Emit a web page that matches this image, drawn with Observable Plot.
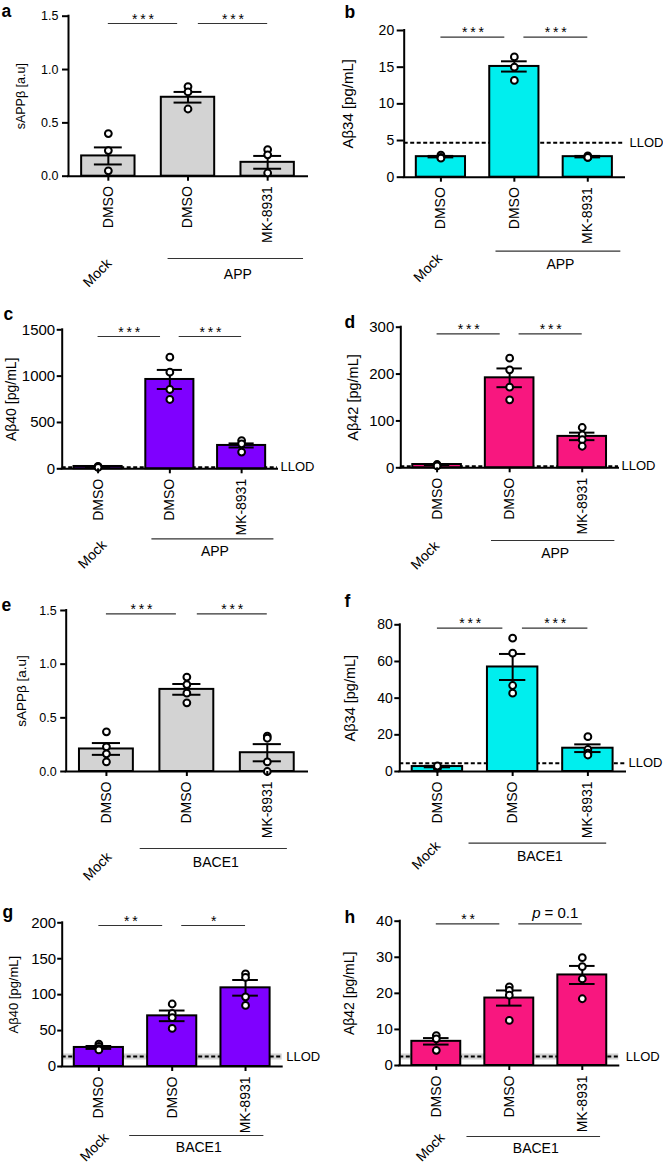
<!DOCTYPE html>
<html>
<head>
<meta charset="utf-8">
<script src="https://cdn.jsdelivr.net/npm/d3@7"></script>
<script src="https://cdn.jsdelivr.net/npm/@observablehq/plot@0.6"></script>
<style>
  html, body { margin: 0; padding: 0; background: #fff; }
  #fig { position: relative; width: 663px; height: 1164px; overflow: hidden; font-family: "Liberation Sans", Arial, Helvetica, sans-serif; color: #000; }
  #fig svg { position: absolute; }
</style>
</head>
<body>
<div id="fig"></div>
<script>
// ---------- data ----------
const categories = ["DMSO", "DMSO", "MK-8931"];
const panelLetters = ["a", "b", "c", "d", "e", "f", "g", "h"];
const yLabels = ["sAPPβ [a.u]", "Aβ34 [pg/mL]", "Aβ40 [pg/mL]", "Aβ42 [pg/mL]",
                 "sAPPβ [a.u]", "Aβ34 [pg/mL]", "Aβ40 [pg/mL]", "Aβ42 [pg/mL]"];
const groupLabels = ["APP", "APP", "APP", "APP", "BACE1", "BACE1", "BACE1", "BACE1"];
const yMax = [1.5, 20, 1500, 300, 1.5, 80, 200, 40];
const yTicks = [
  [0, 0.5, 1, 1.5], [0, 5, 10, 15, 20], [0, 500, 1000, 1500], [0, 100, 200, 300],
  [0, 0.5, 1, 1.5], [0, 20, 40, 60, 80], [0, 50, 100, 150, 200], [0, 10, 20, 30, 40]
];
const barMeans = [
  [0.19, 0.74, 0.13], [2.8, 15.1, 2.8], [25, 964, 252], [7, 192, 67],
  [0.21, 0.765, 0.175], [2.7, 57, 12.7], [26.5, 70.5, 109.5], [6.7, 18.7, 25.1]
];
const barSems = [
  [0.08, 0.05, 0.06], [0.1, 0.7, 0.1], [4, 103, 22], [1, 20, 8],
  [0.055, 0.05, 0.08], [0.4, 7.1, 2.1], [2, 7.4, 10.9], [0.9, 2.1, 2.5]
];
const replicates = [
  [[0.40, 0.24, 0.05], [0.84, 0.79, 0.63], [0.25, 0.20, 0.03]],
  [[3.0, 2.7, 2.6], [16.4, 15.0, 13.2], [2.9, 2.7, 2.7]],
  [[20, 25, 15], [1205, 1043, 856, 748], [305, 270, 180]],
  [[5, 7, 4], [234, 209, 172, 145], [86, 70, 60, 46]],
  [[0.37, 0.23, 0.165, 0.09], [0.88, 0.81, 0.73, 0.64], [0.33, 0.31, 0.09, 0.0]],
  [[1.8, 2.5, 3.0], [72.7, 64.5, 46.9, 42.7], [19, 12, 10, 9]],
  [[31, 28, 25, 23], [87, 74, 68, 53], [129, 124, 97, 85]],
  [[8.3, 7.4, 4.2], [21.8, 20.8, 19.5, 12.5], [29.9, 27.4, 24.0, 18.5]]
];
const sigLabels = [
  ["***", "***"], ["***", "***"], ["***", "***"], ["***", "***"],
  ["***", "***"], ["***", "***"], ["**", "*"], ["**", "p = 0.1"]
];
const llod = [null, 4.7, 18, 3.5, null, 4.5, 13.9, 2.5];

// ---------- styles / layout ----------
const fills = ["#d3d3d3", "#00eeee", "#7f00ff", "#f8177f", "#d3d3d3", "#00eeee", "#7f00ff", "#f8177f"];
const sigSpans = [[0, 0.87], [1.13, 2.0]];                 // in category units
const groupSpans = { APP: [0.75, 2.45], BACE1: [0.42, 2.25] };
const layout = [
  { box: [0, 0, 331, 290],     frame: [68, 15.7, 307, 175.7],     letter: [1, 16],    ylabX: 20,    mock: [97, 272.5],    gLineY: 258,   gTextY: 274.5,  sigY: 23,    tick: [6, 4],   tickFs: 12.5, ylabFs: 12.5, llodDx: 4, band: false },
  { box: [331, 0, 332, 290],   frame: [403.7, 30, 624, 176.7],    letter: [344, 17],  ylabX: 347.7, mock: [427.5, 267.5], gLineY: 250.7, gTextY: 264.5,  sigY: 36.7,  tick: [7, 3],   tickFs: 14,   ylabFs: 15,   llodDx: 5, band: false },
  { box: [0, 290, 331, 290],   frame: [61.7, 329.3, 277, 468.3],  letter: [3, 319],   ylabX: 11,    mock: [92, 554],      gLineY: 538.3, gTextY: 550.8,  sigY: 336,   tick: [5, 2],   tickFs: 15,   ylabFs: 14,   llodDx: 3, band: false },
  { box: [331, 290, 332, 290], frame: [400.3, 326.7, 618, 467.3], letter: [344, 327], ylabX: 353,   mock: [424.7, 555],   gLineY: 540,   gTextY: 553.3,  sigY: 333.3, tick: [4.5, 2], tickFs: 15,   ylabFs: 14.5, llodDx: 3, band: false },
  { box: [0, 580, 331, 290],   frame: [65.7, 610, 307, 771],      letter: [1, 610],   ylabX: 21,    mock: [97, 866],      gLineY: 848,   gTextY: 861.7,  sigY: 613.3, tick: [5.5, 4], tickFs: 12.5, ylabFs: 13.5, llodDx: 4, band: false },
  { box: [331, 580, 332, 290], frame: [399.3, 624.3, 625, 771],   letter: [344, 606], ylabX: 350,   mock: [425.7, 855],   gLineY: 842.7, gTextY: 855.8,  sigY: 627.7, tick: [5, 2],   tickFs: 14,   ylabFs: 14.5, llodDx: 3, band: false },
  { box: [0, 870, 331, 294],   frame: [61.7, 922.3, 281.7, 1066], letter: [2, 917],   ylabX: 13.3,  mock: [94, 1146.7],   gLineY: 1135,  gTextY: 1147.5, sigY: 925,   tick: [4.5, 1.5], tickFs: 15, ylabFs: 13,   llodDx: 4, band: true },
  { box: [331, 870, 332, 294], frame: [399.3, 920.7, 618.3, 1065], letter: [344, 922], ylabX: 349,  mock: [430, 1146.7],  gLineY: 1136,  gTextY: 1147.8, sigY: 923.3, tick: [5, 2],   tickFs: 15,   ylabFs: 14,   llodDx: 7, band: true }
];

const fig = document.getElementById("fig");
const FONT = '"Liberation Sans", Arial, Helvetica, sans-serif';

panelLetters.forEach((letter, k) => {
  const L = layout[k];
  const [bx, by, bw, bh] = L.box;
  const [fl, ft, fr, fb] = L.frame;
  const ym = yMax[k];
  const c0 = fl + (fr - fl) / 6;

  const bars = categories.map((c, i) => ({ i, mean: barMeans[k][i], sem: barSems[k][i] }));
  const caps = bars.flatMap(d => [d.mean - d.sem, d.mean + d.sem].map(v => ({ i: d.i, v })));
  const pts = replicates[k].flatMap((vals, i) => vals.map(v => ({ i, v })));
  const sig = sigSpans.map(([a, b], j) => ({ x1: a, x2: b, xm: (a + b) / 2, y: ym, label: sigLabels[k][j] }));
  const starRows = sig.filter(d => !d.label.startsWith("p"));
  const pRows = sig.filter(d => d.label.startsWith("p"));
  const gSpan = groupSpans[groupLabels[k]];

  const marks = [];
  if (llod[k] != null) {
    if (L.band) marks.push(Plot.ruleY([llod[k]], { stroke: "#d2d2d2", strokeWidth: 6 }));
    marks.push(Plot.ruleY([llod[k]], { stroke: "#000", strokeWidth: 2, strokeDasharray: "4,2.5" }));
    marks.push(Plot.text(["LLOD"], { x: 2.5, y: llod[k], textAnchor: "start", lineAnchor: "middle", dx: L.llodDx, fontSize: 13 }));
  }
  // bars
  marks.push(Plot.rect(bars, { x1: d => d.i - 0.335, x2: d => d.i + 0.335, y1: 0, y2: "mean", fill: fills[k], stroke: "#000", strokeWidth: 2 }));
  // axis lines
  marks.push(Plot.ruleY([0], { x1: -0.5, x2: 2.5, stroke: "#000", strokeWidth: 2, strokeLinecap: "square" }));
  marks.push(Plot.ruleX([-0.5], { y1: 0, y2: ym, stroke: "#000", strokeWidth: 2, strokeLinecap: "square" }));
  // error bars
  marks.push(Plot.ruleX(bars, { x: "i", y1: d => d.mean - d.sem, y2: d => d.mean + d.sem, stroke: "#000", strokeWidth: 2 }));
  marks.push(Plot.ruleY(caps, { y: "v", x1: d => d.i - 0.175, x2: d => d.i + 0.175, stroke: "#000", strokeWidth: 2 }));
  // replicates
  marks.push(Plot.dot(pts, { x: "i", y: "v", r: 3.4, fill: "#fff", stroke: "#000", strokeWidth: 2 }));
  // axes
  marks.push(Plot.axisY({
    ticks: yTicks[k], tickFormat: ym < 2 ? d3.format(".1f") : d3.format("d"),
    tickSize: L.tick[0], tickPadding: L.tick[1], fontSize: L.tickFs, strokeWidth: 2, label: null
  }));
  marks.push(Plot.axisX({
    ticks: [0, 1, 2], tickFormat: i => categories[i], tickRotate: -90,
    tickSize: 5, tickPadding: 5, fontSize: 14, strokeWidth: 2, label: null
  }));
  // y label
  marks.push(Plot.text([yLabels[k]], { frameAnchor: "left", dx: L.ylabX - fl, rotate: -90, fontSize: L.ylabFs, textAnchor: "middle", lineAnchor: "middle" }));
  // panel letter
  marks.push(Plot.text([letter], { frameAnchor: "top-left", dx: L.letter[0] - fl, dy: L.letter[1] - ft, textAnchor: "start", lineAnchor: "bottom", fontSize: 17.5, fontWeight: "bold" }));
  // significance brackets
  marks.push(Plot.ruleY(sig, { y: "y", x1: "x1", x2: "x2", dy: L.sigY - ft, stroke: "#333", strokeWidth: 1.2 }));
  marks.push(Plot.text(starRows, { x: "xm", y: "y", text: d => d.label.split("").join("\u2009"), dy: L.sigY - ft, lineAnchor: "bottom", fontSize: 14 }));
  marks.push(Plot.text(pRows, { x: "xm", y: "y", text: () => "p", fontStyle: "italic", textAnchor: "end", dx: -10, dy: L.sigY - ft - 6, lineAnchor: "bottom", fontSize: 15 }));
  marks.push(Plot.text(pRows, { x: "xm", y: "y", text: d => d.label.slice(1).trim(), textAnchor: "start", dx: -6, dy: L.sigY - ft - 6, lineAnchor: "bottom", fontSize: 15 }));
  // Mock label and group bracket
  marks.push(Plot.text(["Mock"], { x: 0, y: 0, rotate: -45, dx: L.mock[0] - c0, dy: L.mock[1] - fb, fontSize: 14, textAnchor: "middle", lineAnchor: "middle" }));
  marks.push(Plot.ruleY([{ x1: gSpan[0], x2: gSpan[1], y: 0 }], { x1: "x1", x2: "x2", y: "y", dy: L.gLineY - fb, stroke: "#333", strokeWidth: 1.2 }));
  marks.push(Plot.text([groupLabels[k]], { x: (gSpan[0] + gSpan[1]) / 2, y: 0, dx: 2, dy: L.gTextY - fb, fontSize: 14, lineAnchor: "middle" }));

  const svg = Plot.plot({
    width: bw, height: bh,
    marginLeft: fl - bx, marginRight: bx + bw - fr,
    marginTop: ft - by, marginBottom: by + bh - fb,
    x: { type: "linear", domain: [-0.5, 2.5] },
    y: { type: "linear", domain: [0, ym] },
    style: { fontFamily: FONT, color: "#000", background: "transparent", overflow: "visible" },
    marks
  });
  svg.style.left = bx + "px";
  svg.style.top = by + "px";
  svg.style.maxWidth = "none";
  fig.appendChild(svg);
});
</script>
</body>
</html>
